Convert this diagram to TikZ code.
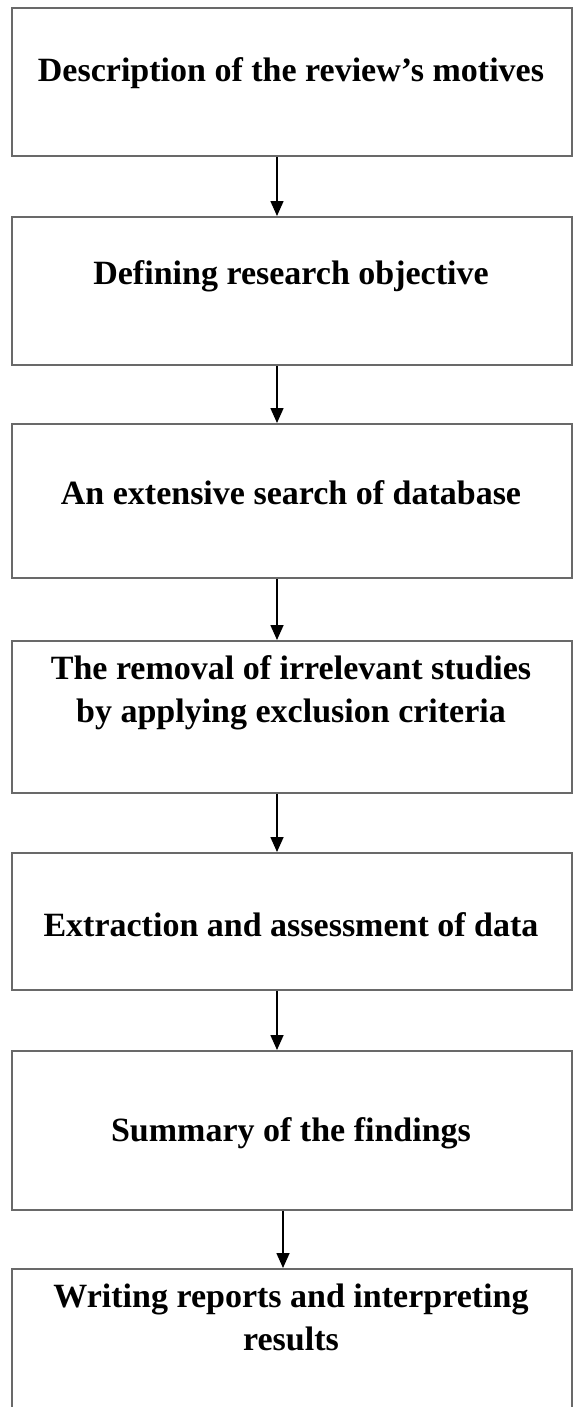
\documentclass[tikz,border=0pt]{standalone}
\usepackage{fontspec}
\setmainfont{Liberation Serif}
\usepackage{xcolor}
\usepackage{tikz}
\usetikzlibrary{arrows.meta, positioning, calc}
\definecolor{boxgray}{RGB}{105, 105, 105}

\begin{document}
\begin{tikzpicture}[x=1pt, y=-1pt,
    stepbox/.style={draw=boxgray, line width=1.8pt, anchor=north west,
          minimum width=560pt, inner sep=0pt},
    steptext/.style={anchor=base, align=center, font=\fontsize{34}{43}\selectfont\bfseries},
    flowarrow/.style={draw=black, line width=1.6pt, -{Triangle[length=15pt, width=13pt]}}]
    \useasboundingbox (0,0) rectangle (573,1407);
    \fill[white] (0,0) rectangle (573,1407);

    % boxes
    \node[stepbox, minimum height=148pt] (b1) at (11,7) {};
    \node[stepbox, minimum height=148pt] (b2) at (11,216) {};
    \node[stepbox, minimum height=154pt] (b3) at (11,423) {};
    \node[stepbox, minimum height=152pt] (b4) at (11,640) {};
    \node[stepbox, minimum height=137pt] (b5) at (11,852) {};
    \node[stepbox, minimum height=159pt] (b6) at (11,1050) {};
    \node[stepbox, minimum height=160pt] (b7) at (11,1268) {};

    % texts (base = last line)
    \node[steptext] (t1) at (291,82) {Description of the review’s motives};
    \node[steptext] (t2) at (291,284) {Defining research objective};
    \node[steptext] (t3) at (291,504) {An extensive search of database};
    \node[steptext] (t4) at (291,722) {The removal of irrelevant studies\\by applying exclusion criteria};
    \node[steptext] (t5) at (291,936) {Extraction and assessment of data};
    \node[steptext] (t6) at (291,1141) {Summary of the findings};
    \node[steptext] (t7) at (291,1350) {Writing reports and interpreting\\results};

    % connectors
    \coordinate (ax) at (277,0);
    \coordinate (ax2) at (283,0);
    \draw[flowarrow] (b1.south -| ax) -- (b2.north -| ax);
    \draw[flowarrow] (b2.south -| ax) -- (b3.north -| ax);
    \draw[flowarrow] (b3.south -| ax) -- (b4.north -| ax);
    \draw[flowarrow] (b4.south -| ax) -- (b5.north -| ax);
    \draw[flowarrow] (b5.south -| ax) -- (b6.north -| ax);
    \draw[flowarrow] (b6.south -| ax2) -- (b7.north -| ax2);
\end{tikzpicture}
\end{document}
